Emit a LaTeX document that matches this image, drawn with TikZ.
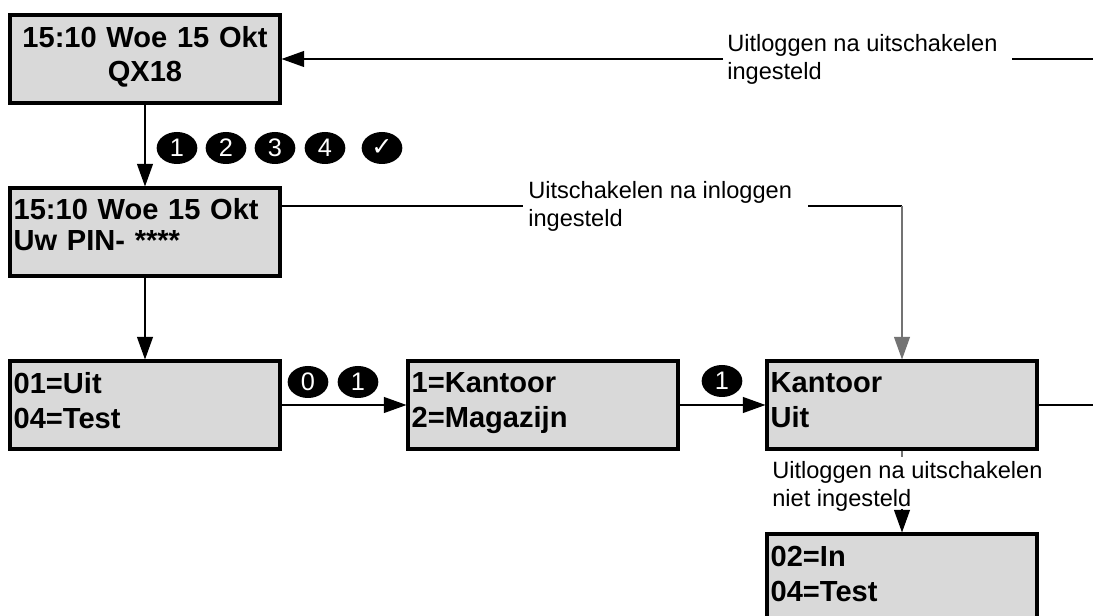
\documentclass[tikz,border=0pt]{standalone}
\usepackage{fontspec}
\setmainfont{Liberation Sans}
\newfontfamily\djv{DejaVu Sans}
\usetikzlibrary{arrows.meta,shapes.geometric}
\newcommand{\dnrule}[1]{\rule[-#1]{0pt}{#1}}
\begin{document}
\begin{tikzpicture}[x=0.75pt,y=-0.75pt,
  box/.style={draw, line width=2.3pt, fill=black!15, minimum width=202.5pt, minimum height=66pt,
    text width=197pt, inner xsep=2.75pt, inner ysep=0pt,
    font=\fontsize{21.8}{25.5}\selectfont\bfseries},
  keyb/.style={shape=ellipse, fill=black, text=white, minimum width=30.5pt, minimum height=24pt,
    inner sep=0pt, font=\fontsize{19}{19}\selectfont},
  lab/.style={align=left, inner sep=0pt, font=\fontsize{17.7}{21}\selectfont},
  conn/.style={line width=0.9pt},
  arr/.style={conn, -{Triangle[length=17pt,width=12pt]}},
  gline/.style={draw=black!55}
]
\useasboundingbox (0,0) rectangle (1093,616);

% boxes
\node[box, align=center] (B1) at (145,59) {15:10 Woe 15 Okt\\[0pt]QX18\dnrule{7.5pt}};
\node[box, align=left] (B2) at (145,232) {15:10 Woe 15 Okt\\[-2.25pt]Uw PIN- ****\dnrule{11pt}};
\node[box, align=left] (B3) at (145,405) {01=Uit\\[0.75pt]04=Test\dnrule{6.8pt}};
\node[box, align=left] (B4) at (543,405) {1=Kantoor\\[0.75pt]2=Magazijn\dnrule{6.8pt}};
\node[box, align=left] (B5) at (902,405) {Kantoor\\[0.75pt]Uit\dnrule{6.8pt}};
\node[box, align=left] (B6) at (902,578) {02=In\\[0.75pt]04=Test\dnrule{6.8pt}};

% labels
\node[lab, anchor=west] (L1) at (727,59) {Uitloggen na uitschakelen\\ingesteld};
\node[lab, anchor=west] (L2) at (528,206) {Uitschakelen na inloggen\\ingesteld};
\node[lab, anchor=west] (L3) at (772,486) {Uitloggen na uitschakelen\\niet ingesteld};

% key circles
\node[keyb] (k1) at (177,148) {1};
\node[keyb] (k2) at (226,148) {2};
\node[keyb] (k3) at (275,148) {3};
\node[keyb] (k4) at (325,148) {4};
\node[keyb] (kc) at (382,148) {\djv\bfseries ✓};
\node[keyb] (k0b) at (308,382) {0};
\node[keyb] (k1b) at (358,382) {1};
\node[keyb] (k1c) at (722,381) {1};

% coordinates
\coordinate (e1) at (1093,59);
\coordinate (e2) at (1093,405);
\coordinate (c2) at (902,206);
\coordinate (s1) at (902,457);
\coordinate (s2) at (902,509);

% connectors
\draw[conn] (e1) -- ([xshift=11pt]L1.east);
\draw[arr] ([xshift=-3pt]L1.west) -- (B1.east);
\draw[arr] (B1.south) -- (B2.north);
\draw[conn] (B2.east |- L2.west) -- ([xshift=-4pt]L2.west);
\draw[conn] ([xshift=12pt]L2.east) -- (c2);
\draw[arr, gline] (c2) -- (B5.north);
\draw[arr] (B2.south) -- (B3.north);
\draw[arr] (B3.east) -- (B4.west);
\draw[arr] (B4.east) -- (B5.west);
\draw[conn] (B5.east) -- (e2);
\draw[conn, gline] (B5.south) -- (s1);
\draw[arr] (s2) -- (B6.north);
\end{tikzpicture}
\end{document}
